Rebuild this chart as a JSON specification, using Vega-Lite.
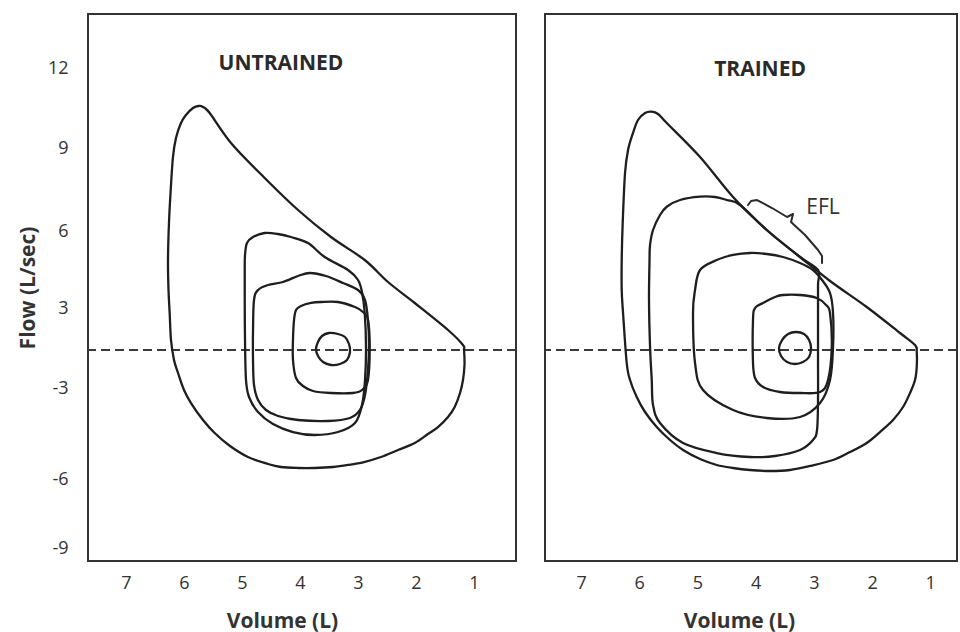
{
  "$schema": "https://vega.github.io/schema/vega-lite/v6.json",
  "background": "white",
  "padding": {"left": 16, "top": 13, "right": 0, "bottom": 0},
  "spacing": 25,
  "config": {
    "view": {"stroke": "#333", "strokeWidth": 2},
    "axis": {"grid": false, "ticks": false, "domain": false, "labelFont": "Open Sans", "labelFontSize": 18, "labelColor": "#333", "titleFont": "Open Sans", "titleFontSize": 21, "titleColor": "#333", "titleFontWeight": "bold", "labelExpr": "'' + datum.value"},
    "axisX": {"labelPadding": 13, "titlePadding": 18, "titleX": 194},
    "axisY": {"labelPadding": 20, "titlePadding": 9}
  },
  "datasets": {
    "loops": [
      {"p":"U","s":"U1","o":1,"v":1.172,"f":0},
      {"p":"U","s":"U1","o":2,"v":1.190,"f":0.357},
      {"p":"U","s":"U1","o":3,"v":1.448,"f":1.429},
      {"p":"U","s":"U1","o":4,"v":2.022,"f":3.195},
      {"p":"U","s":"U1","o":5,"v":2.483,"f":4.013},
      {"p":"U","s":"U1","o":6,"v":2.884,"f":4.870},
      {"p":"U","s":"U1","o":7,"v":3.466,"f":5.766},
      {"p":"U","s":"U1","o":8,"v":4.034,"f":6.759},
      {"p":"U","s":"U1","o":9,"v":4.609,"f":7.916},
      {"p":"U","s":"U1","o":10,"v":5.190,"f":9.188},
      {"p":"U","s":"U1","o":11,"v":5.557,"f":10.312},
      {"p":"U","s":"U1","o":12,"v":5.672,"f":10.537},
      {"p":"U","s":"U1","o":13,"v":5.747,"f":10.575},
      {"p":"U","s":"U1","o":14,"v":5.845,"f":10.5},
      {"p":"U","s":"U1","o":15,"v":5.966,"f":10.237},
      {"p":"U","s":"U1","o":16,"v":6.052,"f":9.938},
      {"p":"U","s":"U1","o":17,"v":6.138,"f":9.375},
      {"p":"U","s":"U1","o":18,"v":6.190,"f":8.675},
      {"p":"U","s":"U1","o":19,"v":6.229,"f":7.482},
      {"p":"U","s":"U1","o":20,"v":6.259,"f":6.289},
      {"p":"U","s":"U1","o":21,"v":6.276,"f":4.870},
      {"p":"U","s":"U1","o":22,"v":6.267,"f":3.701},
      {"p":"U","s":"U1","o":23,"v":6.247,"f":2.643},
      {"p":"U","s":"U1","o":24,"v":6.224,"f":0.714},
      {"p":"U","s":"U1","o":25,"v":6.172,"f":-0.789},
      {"p":"U","s":"U1","o":26,"v":6.103,"f":-1.816},
      {"p":"U","s":"U1","o":27,"v":6.000,"f":-3.066},
      {"p":"U","s":"U1","o":28,"v":5.879,"f":-3.495},
      {"p":"U","s":"U1","o":29,"v":5.672,"f":-4.055},
      {"p":"U","s":"U1","o":30,"v":5.471,"f":-4.484},
      {"p":"U","s":"U1","o":31,"v":5.207,"f":-4.912},
      {"p":"U","s":"U1","o":32,"v":4.897,"f":-5.275},
      {"p":"U","s":"U1","o":33,"v":4.552,"f":-5.505},
      {"p":"U","s":"U1","o":34,"v":4.328,"f":-5.604},
      {"p":"U","s":"U1","o":35,"v":4.034,"f":-5.637},
      {"p":"U","s":"U1","o":36,"v":3.747,"f":-5.637},
      {"p":"U","s":"U1","o":37,"v":3.431,"f":-5.604},
      {"p":"U","s":"U1","o":38,"v":3.172,"f":-5.538},
      {"p":"U","s":"U1","o":39,"v":2.897,"f":-5.440},
      {"p":"U","s":"U1","o":40,"v":2.603,"f":-5.275},
      {"p":"U","s":"U1","o":41,"v":2.310,"f":-5.044},
      {"p":"U","s":"U1","o":42,"v":2.022,"f":-4.813},
      {"p":"U","s":"U1","o":43,"v":1.793,"f":-4.516},
      {"p":"U","s":"U1","o":44,"v":1.621,"f":-4.286},
      {"p":"U","s":"U1","o":45,"v":1.448,"f":-3.956},
      {"p":"U","s":"U1","o":46,"v":1.333,"f":-3.626},
      {"p":"U","s":"U1","o":47,"v":1.241,"f":-3.165},
      {"p":"U","s":"U1","o":48,"v":1.190,"f":-2.368},
      {"p":"U","s":"U1","o":49,"v":1.164,"f":-1.184},

      {"p":"U","s":"U2","o":1,"v":4.948,"f":5.065},
      {"p":"U","s":"U2","o":2,"v":4.914,"f":5.532},
      {"p":"U","s":"U2","o":3,"v":4.810,"f":5.766},
      {"p":"U","s":"U2","o":4,"v":4.609,"f":5.922},
      {"p":"U","s":"U2","o":5,"v":4.379,"f":5.883},
      {"p":"U","s":"U2","o":6,"v":4.155,"f":5.766},
      {"p":"U","s":"U2","o":7,"v":3.862,"f":5.532},
      {"p":"U","s":"U2","o":8,"v":3.574,"f":4.987},
      {"p":"U","s":"U2","o":9,"v":3.172,"f":4.481},
      {"p":"U","s":"U2","o":10,"v":3.0,"f":4.091},
      {"p":"U","s":"U2","o":11,"v":2.931,"f":3.623},
      {"p":"U","s":"U2","o":12,"v":2.884,"f":2.643},
      {"p":"U","s":"U2","o":13,"v":2.862,"f":0.214},
      {"p":"U","s":"U2","o":14,"v":2.879,"f":-2.368},
      {"p":"U","s":"U2","o":15,"v":2.931,"f":-3.560},
      {"p":"U","s":"U2","o":16,"v":3.052,"f":-4.154},
      {"p":"U","s":"U2","o":17,"v":3.345,"f":-4.451},
      {"p":"U","s":"U2","o":18,"v":3.747,"f":-4.549},
      {"p":"U","s":"U2","o":19,"v":4.121,"f":-4.451},
      {"p":"U","s":"U2","o":20,"v":4.466,"f":-4.187},
      {"p":"U","s":"U2","o":21,"v":4.724,"f":-3.791},
      {"p":"U","s":"U2","o":22,"v":4.879,"f":-3.297},
      {"p":"U","s":"U2","o":23,"v":4.931,"f":-2.368},
      {"p":"U","s":"U2","o":24,"v":4.948,"f":0.714},
      {"p":"U","s":"U2","o":25,"v":4.953,"f":3.312},
      {"p":"U","s":"U2","o":26,"v":4.953,"f":4.481},

      {"p":"U","s":"U3","o":1,"v":4.793,"f":3.312},
      {"p":"U","s":"U3","o":2,"v":4.724,"f":3.701},
      {"p":"U","s":"U3","o":3,"v":4.552,"f":3.896},
      {"p":"U","s":"U3","o":4,"v":4.293,"f":4.013},
      {"p":"U","s":"U3","o":5,"v":4.034,"f":4.247},
      {"p":"U","s":"U3","o":6,"v":3.828,"f":4.364},
      {"p":"U","s":"U3","o":7,"v":3.552,"f":4.247},
      {"p":"U","s":"U3","o":8,"v":3.259,"f":3.974},
      {"p":"U","s":"U3","o":9,"v":3.0,"f":3.701},
      {"p":"U","s":"U3","o":10,"v":2.879,"f":3.312},
      {"p":"U","s":"U3","o":11,"v":2.828,"f":2.143},
      {"p":"U","s":"U3","o":12,"v":2.810,"f":0.357},
      {"p":"U","s":"U3","o":13,"v":2.828,"f":-1.579},
      {"p":"U","s":"U3","o":14,"v":2.879,"f":-3.231},
      {"p":"U","s":"U3","o":15,"v":2.966,"f":-3.725},
      {"p":"U","s":"U3","o":16,"v":3.138,"f":-3.989},
      {"p":"U","s":"U3","o":17,"v":3.517,"f":-4.088},
      {"p":"U","s":"U3","o":18,"v":4.034,"f":-4.055},
      {"p":"U","s":"U3","o":19,"v":4.379,"f":-3.923},
      {"p":"U","s":"U3","o":20,"v":4.586,"f":-3.725},
      {"p":"U","s":"U3","o":21,"v":4.724,"f":-3.396},
      {"p":"U","s":"U3","o":22,"v":4.793,"f":-2.763},
      {"p":"U","s":"U3","o":23,"v":4.810,"f":-0.789},
      {"p":"U","s":"U3","o":24,"v":4.810,"f":1.429},

      {"p":"U","s":"U4","o":1,"v":4.103,"f":2.143},
      {"p":"U","s":"U4","o":2,"v":4.069,"f":2.857},
      {"p":"U","s":"U4","o":3,"v":3.983,"f":3.078},
      {"p":"U","s":"U4","o":4,"v":3.810,"f":3.195},
      {"p":"U","s":"U4","o":5,"v":3.638,"f":3.234},
      {"p":"U","s":"U4","o":6,"v":3.345,"f":3.234},
      {"p":"U","s":"U4","o":7,"v":3.052,"f":3.039},
      {"p":"U","s":"U4","o":8,"v":2.914,"f":2.714},
      {"p":"U","s":"U4","o":9,"v":2.828,"f":2.143},
      {"p":"U","s":"U4","o":10,"v":2.798,"f":0.214},
      {"p":"U","s":"U4","o":11,"v":2.828,"f":-2.368},
      {"p":"U","s":"U4","o":12,"v":2.931,"f":-3.066},
      {"p":"U","s":"U4","o":13,"v":3.086,"f":-3.165},
      {"p":"U","s":"U4","o":14,"v":3.466,"f":-3.165},
      {"p":"U","s":"U4","o":15,"v":3.776,"f":-3.099},
      {"p":"U","s":"U4","o":16,"v":3.948,"f":-2.842},
      {"p":"U","s":"U4","o":17,"v":4.069,"f":-2.211},
      {"p":"U","s":"U4","o":18,"v":4.121,"f":-0.789},
      {"p":"U","s":"U4","o":19,"v":4.121,"f":0.714},

      {"p":"U","s":"U5","o":1,"v":3.690,"f":0.571},
      {"p":"U","s":"U5","o":2,"v":3.621,"f":1.0},
      {"p":"U","s":"U5","o":3,"v":3.500,"f":1.214},
      {"p":"U","s":"U5","o":4,"v":3.345,"f":1.143},
      {"p":"U","s":"U5","o":5,"v":3.224,"f":0.929},
      {"p":"U","s":"U5","o":6,"v":3.155,"f":0.429},
      {"p":"U","s":"U5","o":7,"v":3.138,"f":-0.158},
      {"p":"U","s":"U5","o":8,"v":3.190,"f":-0.789},
      {"p":"U","s":"U5","o":9,"v":3.310,"f":-1.105},
      {"p":"U","s":"U5","o":10,"v":3.466,"f":-1.184},
      {"p":"U","s":"U5","o":11,"v":3.603,"f":-0.947},
      {"p":"U","s":"U5","o":12,"v":3.690,"f":-0.474},
      {"p":"U","s":"U5","o":13,"v":3.724,"f":0.071},

      {"p":"T","s":"T1","o":1,"v":1.232,"f":-0.158},
      {"p":"T","s":"T1","o":2,"v":1.261,"f":0.357},
      {"p":"T","s":"T1","o":3,"v":1.519,"f":1.214},
      {"p":"T","s":"T1","o":4,"v":2.091,"f":3.039},
      {"p":"T","s":"T1","o":5,"v":2.722,"f":4.052},
      {"p":"T","s":"T1","o":6,"v":3.237,"f":4.987},
      {"p":"T","s":"T1","o":7,"v":3.809,"f":6.036},
      {"p":"T","s":"T1","o":8,"v":4.388,"f":7.229},
      {"p":"T","s":"T1","o":9,"v":4.955,"f":8.675},
      {"p":"T","s":"T1","o":10,"v":5.527,"f":9.938},
      {"p":"T","s":"T1","o":11,"v":5.677,"f":10.275},
      {"p":"T","s":"T1","o":12,"v":5.785,"f":10.361},
      {"p":"T","s":"T1","o":13,"v":5.900,"f":10.312},
      {"p":"T","s":"T1","o":14,"v":6.021,"f":10.05},
      {"p":"T","s":"T1","o":15,"v":6.107,"f":9.563},
      {"p":"T","s":"T1","o":16,"v":6.192,"f":8.928},
      {"p":"T","s":"T1","o":17,"v":6.244,"f":8.096},
      {"p":"T","s":"T1","o":18,"v":6.284,"f":6.289},
      {"p":"T","s":"T1","o":19,"v":6.301,"f":4.870},
      {"p":"T","s":"T1","o":20,"v":6.301,"f":3.701},
      {"p":"T","s":"T1","o":21,"v":6.278,"f":2.643},
      {"p":"T","s":"T1","o":22,"v":6.215,"f":-1.026},
      {"p":"T","s":"T1","o":23,"v":6.158,"f":-2.368},
      {"p":"T","s":"T1","o":24,"v":6.043,"f":-3.297},
      {"p":"T","s":"T1","o":25,"v":5.900,"f":-3.791},
      {"p":"T","s":"T1","o":26,"v":5.699,"f":-4.286},
      {"p":"T","s":"T1","o":27,"v":5.471,"f":-4.714},
      {"p":"T","s":"T1","o":28,"v":5.247,"f":-5.044},
      {"p":"T","s":"T1","o":29,"v":4.955,"f":-5.341},
      {"p":"T","s":"T1","o":30,"v":4.668,"f":-5.538},
      {"p":"T","s":"T1","o":31,"v":4.388,"f":-5.637},
      {"p":"T","s":"T1","o":32,"v":4.096,"f":-5.703},
      {"p":"T","s":"T1","o":33,"v":3.753,"f":-5.736},
      {"p":"T","s":"T1","o":34,"v":3.409,"f":-5.703},
      {"p":"T","s":"T1","o":35,"v":3.065,"f":-5.571},
      {"p":"T","s":"T1","o":36,"v":2.670,"f":-5.374},
      {"p":"T","s":"T1","o":37,"v":2.378,"f":-5.110},
      {"p":"T","s":"T1","o":38,"v":2.091,"f":-4.813},
      {"p":"T","s":"T1","o":39,"v":1.863,"f":-4.451},
      {"p":"T","s":"T1","o":40,"v":1.639,"f":-4.055},
      {"p":"T","s":"T1","o":41,"v":1.467,"f":-3.626},
      {"p":"T","s":"T1","o":42,"v":1.347,"f":-3.165},
      {"p":"T","s":"T1","o":43,"v":1.261,"f":-2.368},
      {"p":"T","s":"T1","o":44,"v":1.232,"f":-1.342},

      {"p":"T","s":"T2","o":1,"v":5.832,"f":3.312},
      {"p":"T","s":"T2","o":2,"v":5.823,"f":4.870},
      {"p":"T","s":"T2","o":3,"v":5.814,"f":5.455},
      {"p":"T","s":"T2","o":4,"v":5.763,"f":6.036},
      {"p":"T","s":"T2","o":5,"v":5.643,"f":6.578},
      {"p":"T","s":"T2","o":6,"v":5.527,"f":6.878},
      {"p":"T","s":"T2","o":7,"v":5.299,"f":7.120},
      {"p":"T","s":"T2","o":8,"v":4.955,"f":7.240},
      {"p":"T","s":"T2","o":9,"v":4.698,"f":7.229},
      {"p":"T","s":"T2","o":10,"v":4.497,"f":7.120},
      {"p":"T","s":"T2","o":11,"v":4.268,"f":6.940},
      {"p":"T","s":"T2","o":12,"v":3.809,"f":6.036},
      {"p":"T","s":"T2","o":13,"v":3.237,"f":4.987},
      {"p":"T","s":"T2","o":14,"v":2.928,"f":4.481},
      {"p":"T","s":"T2","o":15,"v":2.928,"f":3.896},
      {"p":"T","s":"T2","o":16,"v":2.928,"f":2.143},
      {"p":"T","s":"T2","o":17,"v":2.928,"f":-0.789},
      {"p":"T","s":"T2","o":18,"v":2.928,"f":-3.396},
      {"p":"T","s":"T2","o":19,"v":2.945,"f":-4.385},
      {"p":"T","s":"T2","o":20,"v":3.014,"f":-4.714},
      {"p":"T","s":"T2","o":21,"v":3.237,"f":-5.044},
      {"p":"T","s":"T2","o":22,"v":3.667,"f":-5.242},
      {"p":"T","s":"T2","o":23,"v":4.096,"f":-5.275},
      {"p":"T","s":"T2","o":24,"v":4.668,"f":-5.143},
      {"p":"T","s":"T2","o":25,"v":5.247,"f":-4.813},
      {"p":"T","s":"T2","o":26,"v":5.643,"f":-4.154},
      {"p":"T","s":"T2","o":27,"v":5.763,"f":-3.560},
      {"p":"T","s":"T2","o":28,"v":5.785,"f":-2.368},
      {"p":"T","s":"T2","o":29,"v":5.814,"f":0.214},

      {"p":"T","s":"T3","o":1,"v":4.955,"f":4.481},
      {"p":"T","s":"T3","o":2,"v":4.668,"f":4.870},
      {"p":"T","s":"T3","o":3,"v":4.388,"f":5.065},
      {"p":"T","s":"T3","o":4,"v":4.096,"f":5.143},
      {"p":"T","s":"T3","o":5,"v":3.809,"f":5.104},
      {"p":"T","s":"T3","o":6,"v":3.529,"f":4.987},
      {"p":"T","s":"T3","o":7,"v":3.237,"f":4.753},
      {"p":"T","s":"T3","o":8,"v":3.014,"f":4.481},
      {"p":"T","s":"T3","o":9,"v":2.859,"f":4.091},
      {"p":"T","s":"T3","o":10,"v":2.722,"f":3.584},
      {"p":"T","s":"T3","o":11,"v":2.670,"f":2.643},
      {"p":"T","s":"T3","o":12,"v":2.670,"f":0.214},
      {"p":"T","s":"T3","o":13,"v":2.722,"f":-2.368},
      {"p":"T","s":"T3","o":14,"v":2.893,"f":-3.495},
      {"p":"T","s":"T3","o":15,"v":3.237,"f":-3.956},
      {"p":"T","s":"T3","o":16,"v":3.809,"f":-3.989},
      {"p":"T","s":"T3","o":17,"v":4.388,"f":-3.725},
      {"p":"T","s":"T3","o":18,"v":4.904,"f":-3.066},
      {"p":"T","s":"T3","o":19,"v":5.041,"f":-1.026},
      {"p":"T","s":"T3","o":20,"v":5.076,"f":2.643},
      {"p":"T","s":"T3","o":21,"v":5.041,"f":3.701},

      {"p":"T","s":"T4","o":1,"v":4.045,"f":2.143},
      {"p":"T","s":"T4","o":2,"v":4.010,"f":3.0},
      {"p":"T","s":"T4","o":3,"v":3.873,"f":3.195},
      {"p":"T","s":"T4","o":4,"v":3.667,"f":3.429},
      {"p":"T","s":"T4","o":5,"v":3.529,"f":3.506},
      {"p":"T","s":"T4","o":6,"v":3.237,"f":3.506},
      {"p":"T","s":"T4","o":7,"v":2.950,"f":3.390},
      {"p":"T","s":"T4","o":8,"v":2.790,"f":3.117},
      {"p":"T","s":"T4","o":9,"v":2.722,"f":2.643},
      {"p":"T","s":"T4","o":10,"v":2.692,"f":0.214},
      {"p":"T","s":"T4","o":11,"v":2.756,"f":-2.368},
      {"p":"T","s":"T4","o":12,"v":2.893,"f":-3.132},
      {"p":"T","s":"T4","o":13,"v":3.237,"f":-3.165},
      {"p":"T","s":"T4","o":14,"v":3.581,"f":-3.132},
      {"p":"T","s":"T4","o":15,"v":3.873,"f":-2.921},
      {"p":"T","s":"T4","o":16,"v":4.010,"f":-2.211},
      {"p":"T","s":"T4","o":17,"v":4.045,"f":-1.026},

      {"p":"T","s":"T5","o":1,"v":3.546,"f":0.714},
      {"p":"T","s":"T5","o":2,"v":3.443,"f":1.143},
      {"p":"T","s":"T5","o":3,"v":3.306,"f":1.286},
      {"p":"T","s":"T5","o":4,"v":3.168,"f":1.143},
      {"p":"T","s":"T5","o":5,"v":3.082,"f":0.714},
      {"p":"T","s":"T5","o":6,"v":3.048,"f":0.143},
      {"p":"T","s":"T5","o":7,"v":3.082,"f":-0.553},
      {"p":"T","s":"T5","o":8,"v":3.186,"f":-0.947},
      {"p":"T","s":"T5","o":9,"v":3.323,"f":-1.105},
      {"p":"T","s":"T5","o":10,"v":3.460,"f":-0.947},
      {"p":"T","s":"T5","o":11,"v":3.564,"f":-0.474},
      {"p":"T","s":"T5","o":12,"v":3.598,"f":0.143}
    ],
    "brace": [
      {"o":1,"v":4.131,"f":6.940},
      {"o":2,"v":4.079,"f":7.084},
      {"o":3,"v":3.976,"f":7.120},
      {"o":4,"v":3.718,"f":6.831},
      {"o":5,"v":3.460,"f":6.506},
      {"o":6,"v":3.357,"f":6.614},
      {"o":7,"v":3.392,"f":6.325},
      {"o":8,"v":3.151,"f":5.844},
      {"o":9,"v":2.928,"f":5.260},
      {"o":10,"v":2.859,"f":5.026},
      {"o":11,"v":2.859,"f":4.753}
    ],
    "labels": [
      {"p":"U","k":"title","t":"UNTRAINED","v":4.328,"f":12.15},
      {"p":"T","k":"title","t":"TRAINED","v":3.924,"f":11.925},
      {"p":"T","k":"note","t":"EFL","v":2.842,"f":6.831}
    ]
  },
  "hconcat": [
    {
      "width": 428,
      "height": 547,
      "layer": [
        {
          "data": {"values": [{}]},
          "mark": {"type": "rule", "strokeDash": [9, 5], "color": "#3a3a3a", "strokeWidth": 2},
          "encoding": {"y": {"datum": 0, "type": "quantitative", "title": "Flow (L/sec)"}}
        },
        {
          "data": {"name": "loops"},
          "transform": [{"filter": "datum.p === 'U'"}],
          "mark": {"type": "line", "interpolate": "cardinal-closed", "color": "#1e1e1e", "strokeWidth": 2.3},
          "encoding": {
            "x": {"field": "v", "type": "quantitative", "title": "Volume (L)", "scale": {"domain": [0.276, 7.655], "reverse": true, "nice": false, "zero": false}, "axis": {"values": [1, 2, 3, 4, 5, 6, 7]}},
            "y": {"field": "f", "type": "quantitative", "title": "Flow (L/sec)", "scale": {"type": "linear", "domain": [-9.565, -9, -6, -3, 0, 3, 6, 9, 12, 14.025], "range": [547, 534, 465, 374, 336, 294, 217, 134, 54, 0], "nice": false, "zero": false}, "axis": {"values": [-9, -6, -3, 3, 6, 9, 12]}},
            "detail": {"field": "s"},
            "order": {"field": "o", "type": "quantitative"}
          }
        },
        {
          "data": {"name": "labels"},
          "transform": [{"filter": "datum.p === 'U' && datum.k === 'title'"}],
          "mark": {"type": "text", "font": "Open Sans", "fontWeight": "bold", "fontSize": 21, "color": "#2a2a2a", "align": "center", "baseline": "middle"},
          "encoding": {
            "x": {"field": "v", "type": "quantitative", "title": "Volume (L)"},
            "y": {"field": "f", "type": "quantitative", "title": "Flow (L/sec)"},
            "text": {"field": "t"}
          }
        }
      ]
    },
    {
      "width": 412,
      "height": 547,
      "layer": [
        {
          "data": {"values": [{}]},
          "mark": {"type": "rule", "strokeDash": [9, 5], "color": "#3a3a3a", "strokeWidth": 2},
          "encoding": {"y": {"datum": 0, "type": "quantitative", "axis": null}}
        },
        {
          "data": {"name": "loops"},
          "transform": [{"filter": "datum.p === 'T'"}],
          "mark": {"type": "line", "interpolate": "cardinal-closed", "color": "#1e1e1e", "strokeWidth": 2.3},
          "encoding": {
            "x": {"field": "v", "type": "quantitative", "title": "Volume (L)", "scale": {"domain": [0.540, 7.619], "reverse": true, "nice": false, "zero": false}, "axis": {"values": [1, 2, 3, 4, 5, 6, 7]}},
            "y": {"field": "f", "type": "quantitative", "axis": null, "scale": {"type": "linear", "domain": [-9.565, -9, -6, -3, 0, 3, 6, 9, 12, 14.025], "range": [547, 534, 465, 374, 336, 294, 217, 134, 54, 0], "nice": false, "zero": false}},
            "detail": {"field": "s"},
            "order": {"field": "o", "type": "quantitative"}
          }
        },
        {
          "data": {"name": "brace"},
          "mark": {"type": "line", "color": "#2a2a2a", "strokeWidth": 2, "strokeJoin": "round", "strokeCap": "round"},
          "encoding": {
            "x": {"field": "v", "type": "quantitative", "title": "Volume (L)"},
            "y": {"field": "f", "type": "quantitative", "axis": null},
            "order": {"field": "o", "type": "quantitative"}
          }
        },
        {
          "data": {"name": "labels"},
          "transform": [{"filter": "datum.p === 'T' && datum.k === 'title'"}],
          "mark": {"type": "text", "font": "Open Sans", "fontWeight": "bold", "fontSize": 21, "color": "#2a2a2a", "align": "center", "baseline": "middle"},
          "encoding": {
            "x": {"field": "v", "type": "quantitative", "title": "Volume (L)"},
            "y": {"field": "f", "type": "quantitative", "axis": null},
            "text": {"field": "t"}
          }
        },
        {
          "data": {"name": "labels"},
          "transform": [{"filter": "datum.p === 'T' && datum.k === 'note'"}],
          "mark": {"type": "text", "font": "Open Sans", "fontSize": 21, "color": "#333", "align": "center", "baseline": "middle"},
          "encoding": {
            "x": {"field": "v", "type": "quantitative", "title": "Volume (L)"},
            "y": {"field": "f", "type": "quantitative", "axis": null},
            "text": {"field": "t"}
          }
        }
      ]
    }
  ]
}
